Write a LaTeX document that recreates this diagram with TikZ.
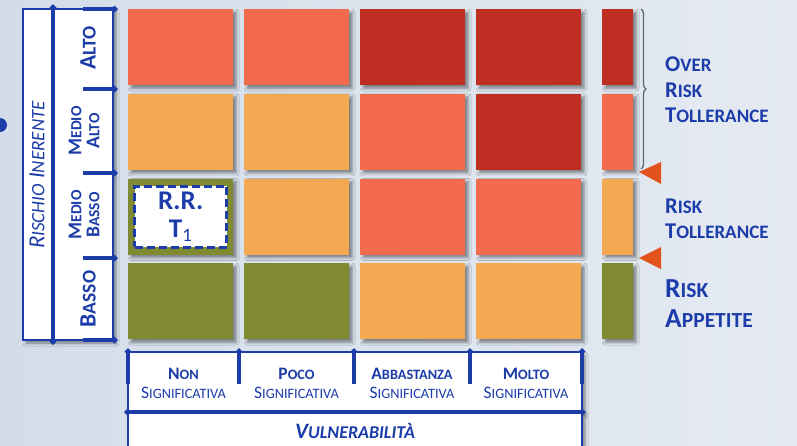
\documentclass[tikz,border=0pt]{standalone}
\usepackage{fontspec}
\setmainfont{Carlito}
\usetikzlibrary{arrows.meta,shadows.blur,decorations.pathreplacing}
\definecolor{blu}{HTML}{1B3CA9}
\definecolor{sal}{HTML}{F26B4D}
\definecolor{dred}{HTML}{BE2E22}
\definecolor{ora}{HTML}{F2A951}
\definecolor{oli}{HTML}{7F8A31}
\definecolor{bgl}{HTML}{D3DDE9}
\definecolor{bgr}{HTML}{E5EAF2}
\definecolor{tri}{HTML}{E1521D}
\definecolor{graff}{HTML}{5B6670}
\def\scsz{10}
\newcommand\smcap[2]{#1{\fontsize{\scsz}{\scsz}\selectfont#2}}
\tikzset{
  ombra/.style={blur shadow={shadow xshift=3pt,shadow yshift=-3pt,shadow blur radius=3pt,shadow opacity=45}},
  cella/.style={anchor=north west,inner sep=0pt,minimum width=105pt,minimum height=76pt,ombra},
  assebox/.style={draw=blu,fill=white,line width=1.5pt,ombra},
  spessa/.style={blu,line width=3.5pt,>={Diamond[length=7pt,width=7pt]}},
  testo/.style={text=blu,inner sep=0pt},
  rigagr/.style={testo,rotate=90,font=\bfseries\fontsize{23.5}{26}\selectfont\def\scsz{19.5}},
  rigapic/.style={testo,rotate=90,align=center,font=\bfseries\fontsize{19.5}{18}\selectfont\def\scsz{15.5}},
  colonna/.style={testo,align=center,font=\fontsize{17.5}{19}\selectfont\def\scsz{14.3}},
  destra/.style={testo,anchor=west,align=left,font=\bfseries\fontsize{22.5}{25.5}\selectfont\def\scsz{19}},
}
\begin{document}
\begin{tikzpicture}[x=1pt,y=-1pt]
  \useasboundingbox (0,0) rectangle (797,445);
  \shade[left color=bgl,right color=bgr] (0,0) rectangle (797,445);
  \fill[blu] (0,125) circle (7);
  % asse rischio
  \filldraw[assebox] (23,9) rectangle (113,340);
  \draw[blu,line width=2pt] (113,9) -- (113,340);
  \draw[spessa,<->] (53,4) -- (53,345);
  \foreach \y in {9,89,173,258,340}
    \draw[spessa,->] (83,\y) -- (118,\y);
  \node[testo,rotate=90,font=\itshape\fontsize{23}{26}\selectfont\def\scsz{19}] (rischio) at (37,175) {\smcap{R}{ISCHIO} \smcap{I}{NERENTE}};
  \node[rigagr] (alto) at (88,48) {\smcap{A}{LTO}};
  \node[rigapic] (medioalto) at (84,131) {\smcap{M}{EDIO}\\\smcap{A}{LTO}};
  \node[rigapic] (mediobasso) at (84,215) {\smcap{M}{EDIO}\\\smcap{B}{ASSO}};
  \node[rigagr] (basso) at (88,299) {\smcap{B}{ASSO}};
  % matrice
  \foreach \riga [count=\r from 0] in {{sal,sal,dred,dred},{ora,ora,sal,dred},{oli,ora,sal,sal},{oli,oli,ora,ora}}
    \foreach \col [count=\c from 0] in \riga
      \node[cella,fill=\col] (m-\r-\c) at ({128+116*\c},{9+84.67*\r}) {};
  \foreach \col [count=\r from 0] in {dred,sal,ora,oli}
    \node[cella,minimum width=31pt,fill=\col] (s-\r) at (602,{9+84.67*\r}) {};
  \node[draw=blu,fill=white,dashed,dash pattern=on 8pt off 4pt,line width=3pt,minimum width=92pt,minimum height=61pt,
    text=blu,align=center,font=\bfseries\fontsize{27}{28}\selectfont] (rr) at (m-2-0) {R.R.\\T\textsubscript{\mdseries 1}};
  % asse vulnerabilita
  \filldraw[assebox] (128,352) rectangle (582,412);
  \filldraw[assebox] (128,412) rectangle (582,452);
  \draw[blu,line width=2pt] (128,352) -- (582,352);
  \foreach \x in {128,239,354,470,582}
    \draw[spessa,->] (\x,384) -- (\x,348);
  \draw[spessa,<->] (124,412) -- (586,412);
  \node[colonna] (non) at (183.5,383) {\textbf{\smcap{N}{ON}}\\\smcap{S}{IGNIFICATIVA}};
  \node[colonna] (poco) at (296.5,383) {\textbf{\smcap{P}{OCO}}\\\smcap{S}{IGNIFICATIVA}};
  \node[colonna] (abba) at (412,383) {\textbf{\smcap{A}{BBASTANZA}}\\\smcap{S}{IGNIFICATIVA}};
  \node[colonna] (molto) at (526,383) {\textbf{\smcap{M}{OLTO}}\\\smcap{S}{IGNIFICATIVA}};
  \node[testo,font=\bfseries\itshape\fontsize{22}{24}\selectfont\def\scsz{18}] (vuln) at (355,431) {\smcap{V}{ULNERABILITÀ}};
  % soglie
  \draw[graff,line width=1.3pt,decorate,decoration={brace,amplitude=5pt}] (641,9) -- (641,169);
  \fill[tri] (639,172) -- (661,162) -- (661,184) -- cycle;
  \fill[tri] (639,258) -- (661,247) -- (661,269) -- cycle;
  \node[destra] (over) at (665,90) {\smcap{O}{VER}\\\smcap{R}{ISK}\\\smcap{T}{OLLERANCE}};
  \node[destra] (toll) at (665,219) {\smcap{R}{ISK}\\\smcap{T}{OLLERANCE}};
  \node[destra,font=\bfseries\fontsize{27.5}{30}\selectfont\def\scsz{21.5}] (appetite) at (665,304) {\smcap{R}{ISK}\\\smcap{A}{PPETITE}};
\end{tikzpicture}
\end{document}
